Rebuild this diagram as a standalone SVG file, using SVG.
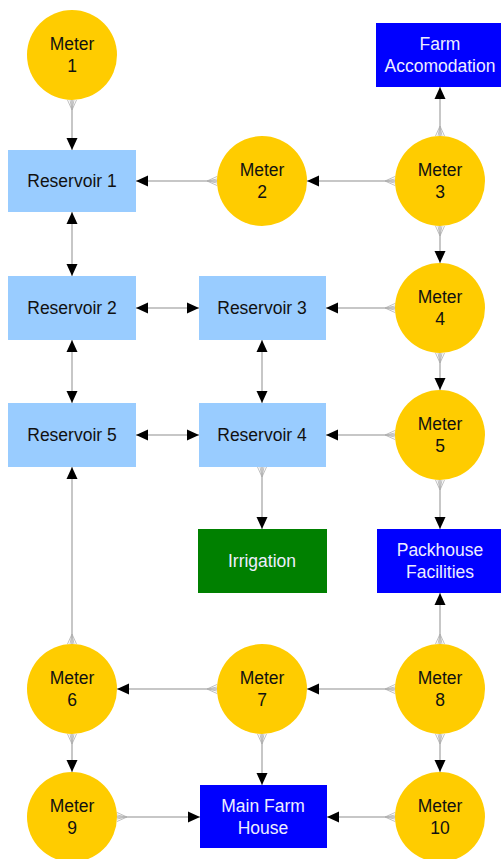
<svg xmlns="http://www.w3.org/2000/svg" width="501" height="859" viewBox="0 0 501 859">
<defs>
<style>
.meter{fill:#FFCC00}
.res{fill:#99CCFF}
.dest{fill:#0000FF}
.irr{fill:#008000}
text{font-family:"Liberation Sans",Arial,sans-serif;font-size:17.5px;text-anchor:middle}
.dk{fill:#111}
.lt{fill:#EEEEFF}
.c{stroke:#B4B4B4;stroke-width:1.5;fill:none}
.one{marker-start:url(#tail);marker-end:url(#head)}
.two{marker-start:url(#head2);marker-end:url(#head)}
</style>
<marker id="head" markerUnits="userSpaceOnUse" markerWidth="13" markerHeight="13" refX="12" refY="6" orient="auto" overflow="visible">
<path d="M0,0.5 L12,6 L0,11.5 Z" fill="#000"/>
</marker>
<marker id="head2" markerUnits="userSpaceOnUse" markerWidth="13" markerHeight="13" refX="12" refY="6" orient="auto-start-reverse" overflow="visible">
<path d="M0,0.5 L12,6 L0,11.5 Z" fill="#000"/>
</marker>
<marker id="tail" markerUnits="userSpaceOnUse" markerWidth="12" markerHeight="12" refX="0" refY="6" orient="auto" overflow="visible">
<path d="M0,1.5 L10,6 L0,10.5 M0,4 L10,6 L0,8" fill="none" stroke="#B0B0B0" stroke-width="0.8"/>
</marker>
</defs>
<rect width="501" height="859" fill="#fff"/>
<g id="connectors">
<line class="c one" x1="72" y1="100" x2="72" y2="150"/>
<line class="c one" x1="217" y1="181" x2="136" y2="181"/>
<line class="c one" x1="395" y1="181" x2="307" y2="181"/>
<line class="c one" x1="440" y1="136" x2="440" y2="87"/>
<line class="c one" x1="440" y1="226" x2="440" y2="263"/>
<line class="c two" x1="72" y1="212" x2="72" y2="276"/>
<line class="c two" x1="136" y1="308" x2="199" y2="308"/>
<line class="c one" x1="395" y1="308" x2="326" y2="308"/>
<line class="c two" x1="72" y1="340" x2="72" y2="403"/>
<line class="c two" x1="262" y1="340" x2="262" y2="403"/>
<line class="c one" x1="440" y1="353" x2="440" y2="390"/>
<line class="c two" x1="136" y1="435" x2="199" y2="435"/>
<line class="c one" x1="395" y1="435" x2="326" y2="435"/>
<line class="c one" x1="262" y1="467" x2="262" y2="529"/>
<line class="c one" x1="440" y1="480" x2="440" y2="529"/>
<line class="c one" x1="440" y1="644" x2="440" y2="593"/>
<line class="c one" x1="72" y1="644" x2="72" y2="467"/>
<line class="c one" x1="217" y1="689" x2="117" y2="689"/>
<line class="c one" x1="395" y1="689" x2="307" y2="689"/>
<line class="c one" x1="72" y1="734" x2="72" y2="772"/>
<line class="c one" x1="262" y1="734" x2="262" y2="785"/>
<line class="c one" x1="440" y1="734" x2="440" y2="772"/>
<line class="c one" x1="117" y1="817" x2="200" y2="817"/>
<line class="c one" x1="395" y1="817" x2="327" y2="817"/>
</g>
<g id="meter1"><circle class="meter" cx="72" cy="55" r="45"/><text class="dk" x="72" y="50">Meter</text><text class="dk" x="72" y="72">1</text></g>
<g id="meter2"><circle class="meter" cx="262" cy="181" r="45"/><text class="dk" x="262" y="176">Meter</text><text class="dk" x="262" y="198">2</text></g>
<g id="meter3"><circle class="meter" cx="440" cy="181" r="45"/><text class="dk" x="440" y="176">Meter</text><text class="dk" x="440" y="198">3</text></g>
<g id="meter4"><circle class="meter" cx="440" cy="308" r="45"/><text class="dk" x="440" y="303">Meter</text><text class="dk" x="440" y="325">4</text></g>
<g id="meter5"><circle class="meter" cx="440" cy="435" r="45"/><text class="dk" x="440" y="430">Meter</text><text class="dk" x="440" y="452">5</text></g>
<g id="meter6"><circle class="meter" cx="72" cy="689" r="45"/><text class="dk" x="72" y="684">Meter</text><text class="dk" x="72" y="706">6</text></g>
<g id="meter7"><circle class="meter" cx="262" cy="689" r="45"/><text class="dk" x="262" y="684">Meter</text><text class="dk" x="262" y="706">7</text></g>
<g id="meter8"><circle class="meter" cx="440" cy="689" r="45"/><text class="dk" x="440" y="684">Meter</text><text class="dk" x="440" y="706">8</text></g>
<g id="meter9"><circle class="meter" cx="72" cy="817" r="45"/><text class="dk" x="72" y="812">Meter</text><text class="dk" x="72" y="834">9</text></g>
<g id="meter10"><circle class="meter" cx="440" cy="817" r="45"/><text class="dk" x="440" y="812">Meter</text><text class="dk" x="440" y="834">10</text></g>
<g id="farm-accomodation"><rect class="dest" x="376" y="23" width="128" height="64"/><text class="lt" x="440" y="50">Farm</text><text class="lt" x="440" y="72">Accomodation</text></g>
<g id="reservoir1"><rect class="res" x="8" y="150" width="128" height="62"/><text class="dk" x="72" y="187">Reservoir 1</text></g>
<g id="reservoir2"><rect class="res" x="8" y="276" width="128" height="64"/><text class="dk" x="72" y="314">Reservoir 2</text></g>
<g id="reservoir3"><rect class="res" x="199" y="276" width="127" height="64"/><text class="dk" x="262" y="314">Reservoir 3</text></g>
<g id="reservoir5"><rect class="res" x="8" y="403" width="128" height="64"/><text class="dk" x="72" y="441">Reservoir 5</text></g>
<g id="reservoir4"><rect class="res" x="199" y="403" width="127" height="64"/><text class="dk" x="262" y="441">Reservoir 4</text></g>
<g id="irrigation"><rect class="irr" x="198" y="529" width="129" height="64"/><text class="lt" x="262" y="567">Irrigation</text></g>
<g id="packhouse"><rect class="dest" x="377" y="529" width="127" height="64"/><text class="lt" x="440" y="556">Packhouse</text><text class="lt" x="440" y="578">Facilities</text></g>
<g id="main-farm-house"><rect class="dest" x="200" y="785" width="127" height="63"/><text class="lt" x="263" y="812">Main Farm</text><text class="lt" x="263" y="834">House</text></g>
</svg>
